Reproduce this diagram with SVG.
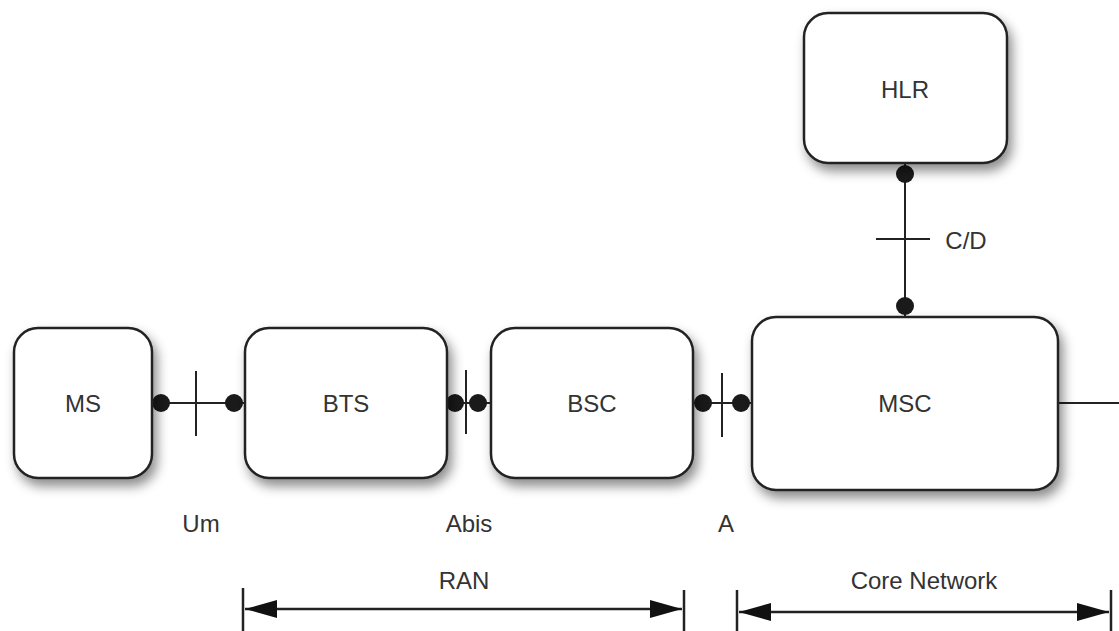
<svg xmlns="http://www.w3.org/2000/svg" width="1119" height="631" viewBox="0 0 1119 631">
  <defs>
    <filter id="shadow" x="-20%" y="-20%" width="150%" height="150%">
      <feDropShadow dx="4" dy="7" stdDeviation="6" flood-color="#000" flood-opacity="0.45"/>
    </filter>
    <marker id="arrow" viewBox="0 0 32 20" refX="32" refY="10" markerWidth="32" markerHeight="20" markerUnits="userSpaceOnUse" orient="auto-start-reverse">
      <path d="M0,1 L32,10 L0,19 Z" fill="#111"/>
    </marker>
  </defs>
  <style>
    .box { fill: #fff; stroke: #222; stroke-width: 2.5; filter: url(#shadow); }
    .lbl { font-family: "Liberation Sans", Arial, sans-serif; font-size: 24px; fill: #333; text-anchor: middle; dominant-baseline: central; }
    .line { stroke: #222; stroke-width: 2; fill: none; }
    .dot { fill: #1a1a1a; }
    .span { stroke: #222; stroke-width: 2.5; fill: none; }
  </style>
  <rect width="1119" height="631" fill="#fff"/>

  <g id="connectors">
    <!-- Um -->
    <line class="line" x1="152" y1="403" x2="244" y2="403"/>
    <line class="line" x1="196" y1="371" x2="196" y2="436"/>
    <circle class="dot" cx="161" cy="403" r="9"/>
    <circle class="dot" cx="234" cy="403" r="9"/>
    <!-- Abis -->
    <line class="line" x1="447" y1="403" x2="491" y2="403"/>
    <line class="line" x1="466" y1="370" x2="466" y2="434"/>
    <circle class="dot" cx="455" cy="403" r="9"/>
    <circle class="dot" cx="478" cy="403" r="9"/>
    <!-- A -->
    <line class="line" x1="693" y1="403" x2="752" y2="403"/>
    <line class="line" x1="722" y1="373" x2="722" y2="437"/>
    <circle class="dot" cx="703" cy="403" r="9"/>
    <circle class="dot" cx="741" cy="403" r="9"/>
    <!-- C/D -->
    <line class="line" x1="905" y1="163" x2="905" y2="317"/>
    <line class="line" x1="876" y1="239" x2="930" y2="239"/>
    <circle class="dot" cx="905" cy="174" r="9"/>
    <circle class="dot" cx="905" cy="306" r="9"/>
    <!-- MSC outgoing -->
    <line class="line" x1="1058" y1="403" x2="1119" y2="403"/>
  </g>

  <g id="node-ms">
    <rect class="box" x="14" y="328" width="138" height="150" rx="24"/>
    <text class="lbl" x="83" y="403">MS</text>
  </g>
  <g id="node-bts">
    <rect class="box" x="245" y="328" width="202" height="150" rx="24"/>
    <text class="lbl" x="346" y="403">BTS</text>
  </g>
  <g id="node-bsc">
    <rect class="box" x="491" y="328" width="202" height="150" rx="24"/>
    <text class="lbl" x="592" y="403">BSC</text>
  </g>
  <g id="node-msc">
    <rect class="box" x="752" y="317" width="306" height="173" rx="24"/>
    <text class="lbl" x="905" y="403">MSC</text>
  </g>
  <g id="node-hlr">
    <rect class="box" x="804" y="13" width="203" height="150" rx="24"/>
    <text class="lbl" x="905" y="89">HLR</text>
  </g>

  <g id="interface-labels">
    <text class="lbl" x="201" y="523">Um</text>
    <text class="lbl" x="469" y="523">Abis</text>
    <text class="lbl" x="726" y="523">A</text>
    <text class="lbl" x="966" y="240">C/D</text>
  </g>

  <g id="spans">
    <line class="span" x1="243" y1="588" x2="243" y2="631"/>
    <line class="span" x1="684" y1="590" x2="684" y2="631"/>
    <line class="span" x1="245" y1="609" x2="682" y2="609" marker-start="url(#arrow)" marker-end="url(#arrow)"/>
    <text class="lbl" x="464" y="580">RAN</text>

    <line class="span" x1="737" y1="590" x2="737" y2="631"/>
    <line class="span" x1="1111" y1="590" x2="1111" y2="631"/>
    <line class="span" x1="739" y1="612" x2="1109" y2="612" marker-start="url(#arrow)" marker-end="url(#arrow)"/>
    <text class="lbl" x="924" y="580">Core Network</text>
  </g>
</svg>
